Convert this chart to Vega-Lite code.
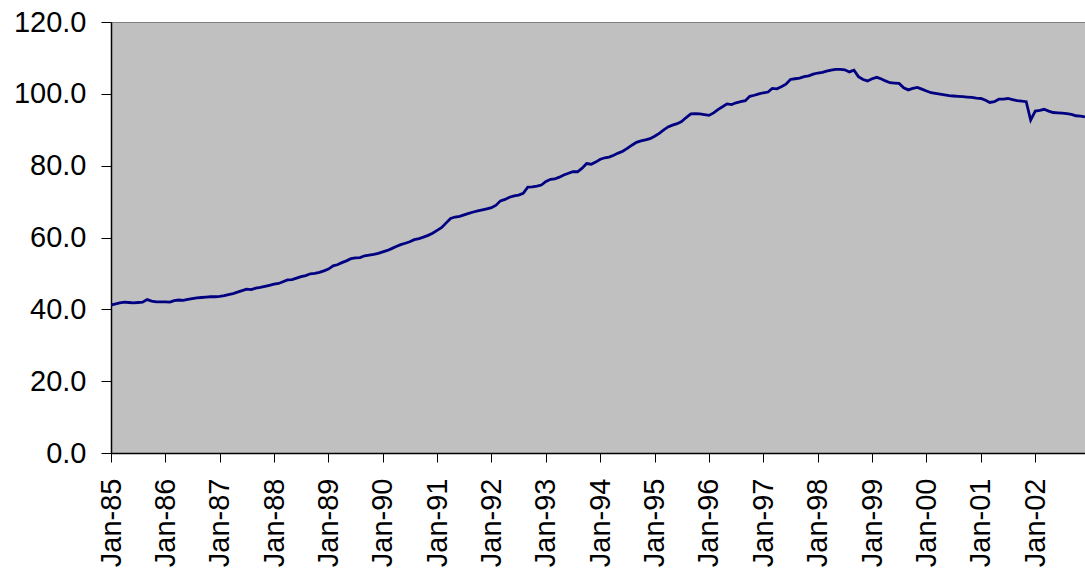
{
  "$schema": "https://vega.github.io/schema/vega-lite/v6.json",
  "width": 974,
  "height": 431,
  "autosize": "none",
  "padding": {"left": 111, "top": 22, "right": 0, "bottom": 124},
  "background": "white",
  "data": {
    "values": [
      {"date": "1985-01-01", "value": 41.2}, {"date": "1985-02-01", "value": 41.5}, {"date": "1985-03-01", "value": 41.8}, {"date": "1985-04-01", "value": 42.0},
      {"date": "1985-05-01", "value": 41.9}, {"date": "1985-06-01", "value": 41.8}, {"date": "1985-07-01", "value": 41.9}, {"date": "1985-08-01", "value": 42.0},
      {"date": "1985-09-01", "value": 42.7}, {"date": "1985-10-01", "value": 42.3}, {"date": "1985-11-01", "value": 42.1}, {"date": "1985-12-01", "value": 42.1},
      {"date": "1986-01-01", "value": 42.1}, {"date": "1986-02-01", "value": 42.0}, {"date": "1986-03-01", "value": 42.4}, {"date": "1986-04-01", "value": 42.6},
      {"date": "1986-05-01", "value": 42.5}, {"date": "1986-06-01", "value": 42.8}, {"date": "1986-07-01", "value": 43.0}, {"date": "1986-08-01", "value": 43.2},
      {"date": "1986-09-01", "value": 43.3}, {"date": "1986-10-01", "value": 43.4}, {"date": "1986-11-01", "value": 43.5}, {"date": "1986-12-01", "value": 43.5},
      {"date": "1987-01-01", "value": 43.6}, {"date": "1987-02-01", "value": 43.8}, {"date": "1987-03-01", "value": 44.1}, {"date": "1987-04-01", "value": 44.4},
      {"date": "1987-05-01", "value": 44.8}, {"date": "1987-06-01", "value": 45.2}, {"date": "1987-07-01", "value": 45.6}, {"date": "1987-08-01", "value": 45.5},
      {"date": "1987-09-01", "value": 45.9}, {"date": "1987-10-01", "value": 46.1}, {"date": "1987-11-01", "value": 46.4}, {"date": "1987-12-01", "value": 46.7},
      {"date": "1988-01-01", "value": 47.0}, {"date": "1988-02-01", "value": 47.2}, {"date": "1988-03-01", "value": 47.7}, {"date": "1988-04-01", "value": 48.2},
      {"date": "1988-05-01", "value": 48.3}, {"date": "1988-06-01", "value": 48.7}, {"date": "1988-07-01", "value": 49.1}, {"date": "1988-08-01", "value": 49.4},
      {"date": "1988-09-01", "value": 49.9}, {"date": "1988-10-01", "value": 50.0}, {"date": "1988-11-01", "value": 50.3}, {"date": "1988-12-01", "value": 50.7},
      {"date": "1989-01-01", "value": 51.2}, {"date": "1989-02-01", "value": 52.1}, {"date": "1989-03-01", "value": 52.4}, {"date": "1989-04-01", "value": 53.0},
      {"date": "1989-05-01", "value": 53.5}, {"date": "1989-06-01", "value": 54.1}, {"date": "1989-07-01", "value": 54.3}, {"date": "1989-08-01", "value": 54.4},
      {"date": "1989-09-01", "value": 54.9}, {"date": "1989-10-01", "value": 55.1}, {"date": "1989-11-01", "value": 55.3}, {"date": "1989-12-01", "value": 55.6},
      {"date": "1990-01-01", "value": 56.0}, {"date": "1990-02-01", "value": 56.4}, {"date": "1990-03-01", "value": 56.9}, {"date": "1990-04-01", "value": 57.5},
      {"date": "1990-05-01", "value": 58.0}, {"date": "1990-06-01", "value": 58.4}, {"date": "1990-07-01", "value": 58.8}, {"date": "1990-08-01", "value": 59.4},
      {"date": "1990-09-01", "value": 59.7}, {"date": "1990-10-01", "value": 60.1}, {"date": "1990-11-01", "value": 60.6}, {"date": "1990-12-01", "value": 61.2},
      {"date": "1991-01-01", "value": 62.0}, {"date": "1991-02-01", "value": 62.8}, {"date": "1991-03-01", "value": 64.0}, {"date": "1991-04-01", "value": 65.3},
      {"date": "1991-05-01", "value": 65.7}, {"date": "1991-06-01", "value": 65.9}, {"date": "1991-07-01", "value": 66.3}, {"date": "1991-08-01", "value": 66.7},
      {"date": "1991-09-01", "value": 67.1}, {"date": "1991-10-01", "value": 67.4}, {"date": "1991-11-01", "value": 67.7}, {"date": "1991-12-01", "value": 68.0},
      {"date": "1992-01-01", "value": 68.3}, {"date": "1992-02-01", "value": 69.0}, {"date": "1992-03-01", "value": 70.2}, {"date": "1992-04-01", "value": 70.6},
      {"date": "1992-05-01", "value": 71.2}, {"date": "1992-06-01", "value": 71.6}, {"date": "1992-07-01", "value": 71.8}, {"date": "1992-08-01", "value": 72.3},
      {"date": "1992-09-01", "value": 74.0}, {"date": "1992-10-01", "value": 74.1}, {"date": "1992-11-01", "value": 74.3}, {"date": "1992-12-01", "value": 74.6},
      {"date": "1993-01-01", "value": 75.6}, {"date": "1993-02-01", "value": 76.2}, {"date": "1993-03-01", "value": 76.3}, {"date": "1993-04-01", "value": 76.8},
      {"date": "1993-05-01", "value": 77.4}, {"date": "1993-06-01", "value": 77.9}, {"date": "1993-07-01", "value": 78.3}, {"date": "1993-08-01", "value": 78.3},
      {"date": "1993-09-01", "value": 79.3}, {"date": "1993-10-01", "value": 80.6}, {"date": "1993-11-01", "value": 80.4}, {"date": "1993-12-01", "value": 81.0},
      {"date": "1994-01-01", "value": 81.8}, {"date": "1994-02-01", "value": 82.2}, {"date": "1994-03-01", "value": 82.4}, {"date": "1994-04-01", "value": 82.9},
      {"date": "1994-05-01", "value": 83.5}, {"date": "1994-06-01", "value": 84.0}, {"date": "1994-07-01", "value": 84.8}, {"date": "1994-08-01", "value": 85.7},
      {"date": "1994-09-01", "value": 86.5}, {"date": "1994-10-01", "value": 86.9}, {"date": "1994-11-01", "value": 87.2}, {"date": "1994-12-01", "value": 87.5},
      {"date": "1995-01-01", "value": 88.2}, {"date": "1995-02-01", "value": 89.0}, {"date": "1995-03-01", "value": 89.9}, {"date": "1995-04-01", "value": 90.8},
      {"date": "1995-05-01", "value": 91.3}, {"date": "1995-06-01", "value": 91.7}, {"date": "1995-07-01", "value": 92.3}, {"date": "1995-08-01", "value": 93.4},
      {"date": "1995-09-01", "value": 94.4}, {"date": "1995-10-01", "value": 94.5}, {"date": "1995-11-01", "value": 94.4}, {"date": "1995-12-01", "value": 94.2},
      {"date": "1996-01-01", "value": 94.0}, {"date": "1996-02-01", "value": 94.7}, {"date": "1996-03-01", "value": 95.6}, {"date": "1996-04-01", "value": 96.4},
      {"date": "1996-05-01", "value": 97.2}, {"date": "1996-06-01", "value": 97.0}, {"date": "1996-07-01", "value": 97.5}, {"date": "1996-08-01", "value": 97.8},
      {"date": "1996-09-01", "value": 98.1}, {"date": "1996-10-01", "value": 99.3}, {"date": "1996-11-01", "value": 99.6}, {"date": "1996-12-01", "value": 100.0},
      {"date": "1997-01-01", "value": 100.3}, {"date": "1997-02-01", "value": 100.5}, {"date": "1997-03-01", "value": 101.5}, {"date": "1997-04-01", "value": 101.4},
      {"date": "1997-05-01", "value": 102.0}, {"date": "1997-06-01", "value": 102.7}, {"date": "1997-07-01", "value": 104.0}, {"date": "1997-08-01", "value": 104.2},
      {"date": "1997-09-01", "value": 104.4}, {"date": "1997-10-01", "value": 104.8}, {"date": "1997-11-01", "value": 105.0}, {"date": "1997-12-01", "value": 105.5},
      {"date": "1998-01-01", "value": 105.8}, {"date": "1998-02-01", "value": 106.0}, {"date": "1998-03-01", "value": 106.3}, {"date": "1998-04-01", "value": 106.6},
      {"date": "1998-05-01", "value": 106.8}, {"date": "1998-06-01", "value": 106.8}, {"date": "1998-07-01", "value": 106.7}, {"date": "1998-08-01", "value": 106.1},
      {"date": "1998-09-01", "value": 106.6}, {"date": "1998-10-01", "value": 104.8}, {"date": "1998-11-01", "value": 104.0}, {"date": "1998-12-01", "value": 103.6},
      {"date": "1999-01-01", "value": 104.2}, {"date": "1999-02-01", "value": 104.6}, {"date": "1999-03-01", "value": 104.2}, {"date": "1999-04-01", "value": 103.6},
      {"date": "1999-05-01", "value": 103.1}, {"date": "1999-06-01", "value": 103.0}, {"date": "1999-07-01", "value": 102.9}, {"date": "1999-08-01", "value": 101.7},
      {"date": "1999-09-01", "value": 101.1}, {"date": "1999-10-01", "value": 101.5}, {"date": "1999-11-01", "value": 101.8}, {"date": "1999-12-01", "value": 101.3},
      {"date": "2000-01-01", "value": 100.8}, {"date": "2000-02-01", "value": 100.3}, {"date": "2000-03-01", "value": 100.1}, {"date": "2000-04-01", "value": 99.9},
      {"date": "2000-05-01", "value": 99.7}, {"date": "2000-06-01", "value": 99.5}, {"date": "2000-07-01", "value": 99.4}, {"date": "2000-08-01", "value": 99.3},
      {"date": "2000-09-01", "value": 99.2}, {"date": "2000-10-01", "value": 99.1}, {"date": "2000-11-01", "value": 99.0}, {"date": "2000-12-01", "value": 98.8},
      {"date": "2001-01-01", "value": 98.7}, {"date": "2001-02-01", "value": 98.2}, {"date": "2001-03-01", "value": 97.6}, {"date": "2001-04-01", "value": 97.8},
      {"date": "2001-05-01", "value": 98.5}, {"date": "2001-06-01", "value": 98.5}, {"date": "2001-07-01", "value": 98.7}, {"date": "2001-08-01", "value": 98.4},
      {"date": "2001-09-01", "value": 98.1}, {"date": "2001-10-01", "value": 98.0}, {"date": "2001-11-01", "value": 97.8}, {"date": "2001-12-01", "value": 92.7},
      {"date": "2002-01-01", "value": 95.2}, {"date": "2002-02-01", "value": 95.4}, {"date": "2002-03-01", "value": 95.7}, {"date": "2002-04-01", "value": 95.2},
      {"date": "2002-05-01", "value": 94.8}, {"date": "2002-06-01", "value": 94.7}, {"date": "2002-07-01", "value": 94.6}, {"date": "2002-08-01", "value": 94.5},
      {"date": "2002-09-01", "value": 94.3}, {"date": "2002-10-01", "value": 93.9}, {"date": "2002-11-01", "value": 93.8}, {"date": "2002-12-01", "value": 93.6}
    ]
  },
  "mark": {"type": "line", "color": "#000080", "strokeWidth": 2.8, "clip": true},
  "encoding": {
    "x": {
      "field": "date",
      "type": "temporal",
      "title": null,
      "scale": {
        "type": "utc",
        "domain": [
          {"year": 1985, "month": 1, "date": 1, "utc": true},
          {"year": 2002, "month": 12, "date": 1, "utc": true}
        ]
      },
      "axis": {
        "format": "%b-%y",
        "tickCount": {"interval": "year", "step": 1},
        "labelAngle": -90,
        "labelAlign": "right",
        "labelBaseline": "middle",
        "labelPadding": 16,
        "tickSize": 9,
        "labelOverlap": false,
        "labelFlush": false
      }
    },
    "y": {
      "field": "value",
      "type": "quantitative",
      "title": null,
      "scale": {"domain": [0, 120], "nice": false, "zero": true},
      "axis": {
        "values": [0, 20, 40, 60, 80, 100, 120],
        "format": ".1f",
        "tickSize": 10,
        "labelPadding": 15
      }
    }
  },
  "config": {
    "view": {"fill": "#C0C0C0", "stroke": "#808080", "strokeWidth": 1},
    "axis": {
      "grid": false,
      "labelFont": "Liberation Sans",
      "labelFontSize": 29,
      "labelColor": "black",
      "domainColor": "black",
      "domainWidth": 1.5,
      "tickColor": "black",
      "tickWidth": 1
    }
  }
}
